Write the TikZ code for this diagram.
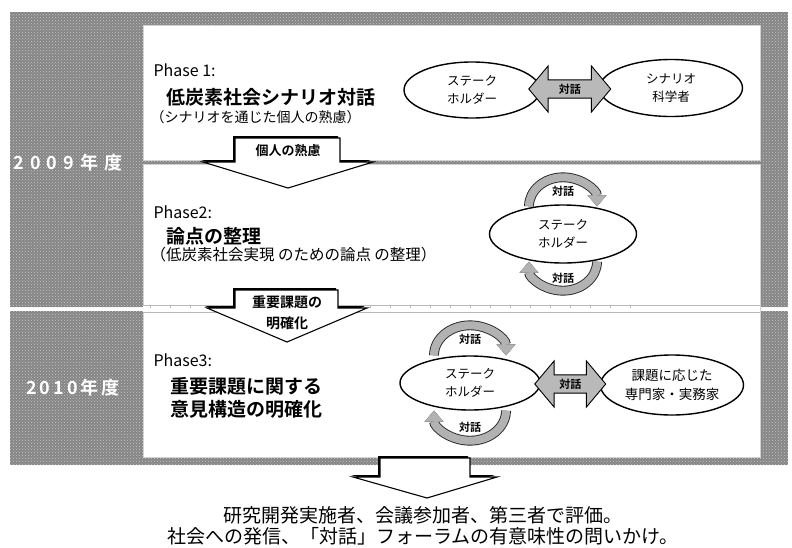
\documentclass[tikz,border=0pt]{standalone}
\usepackage{fontspec}
\setmainfont{Noto Sans CJK JP}[BoldFont={Noto Sans CJK JP Bold}]
\usetikzlibrary{shapes.geometric}
\usetikzlibrary{shapes.arrows}
\usetikzlibrary{arrows.meta}
\usetikzlibrary{patterns}
\usetikzlibrary{shadows}
\usetikzlibrary{calc}
\usetikzlibrary{positioning}

\newcommand{\fsz}[2]{\fontsize{#1}{#2}\selectfont}

\begin{document}
\begin{tikzpicture}[x=1pt,y=-1pt,
    greyband/.style={preaction={fill=black!48},pattern=crosshatch dots,pattern color=white!78!black},
    panel/.style={fill=white,draw=gray!35,line width=0.8pt},
    holder/.style={ellipse,draw,line width=1.4pt,fill=white,inner sep=0pt,align=center,font=\fsz{12.5}{18}},
    talk/.style={double arrow,draw,line width=0.9pt,fill=gray!55,double arrow head extend=14pt,
        double arrow tip angle=100,minimum height=#1,inner xsep=1pt,inner ysep=3.5pt,font=\bfseries\fsz{11}{12}},
    talkloop/.style={line width=8pt,draw=gray!60,-{Triangle[width=19pt,length=11pt,line width=0.6pt]},
        preaction={draw=black!85,line width=9.8pt}},
    loopword/.style={font=\bfseries\fsz{11}{12}},
    phasearrow/.style={draw,line width=1.1pt,fill=white,
        drop shadow={shadow xshift=-2pt,shadow yshift=2pt,fill=black,opacity=1}},
    phasetext/.style={anchor=west,font=\fsz{16}{18}},
    phasetitle/.style={anchor=west,font=\bfseries\fsz{19}{23},align=left},
    yeartext/.style={text=white,font=\bfseries\fsz{18}{18}}
]
\useasboundingbox (0,0) rectangle (792,547);

% background bands
\fill[greyband] (10,12) rectangle (788,307);
\fill[greyband] (10,311) rectangle (788,465);
\filldraw[panel] (143,25) rectangle (760,160);
\filldraw[panel] (143,164) rectangle (760,457);
\fill[white] (143,305) rectangle (760,313);
\draw[gray!55,line width=0.6pt] (143,305) -- (760,305) (143,312) -- (760,312);
\foreach \x in {150,170,...,640}
    \draw[gray!55,line width=0.6pt] (\x,305) -- (\x,308);

% years
\node[yeartext] (y09) at (68,163) {2\kern6pt 0\kern6pt 0\kern6pt 9\kern6pt 年\kern6pt 度};
\node[yeartext] (y10) at (73,388) {2\kern3pt 0\kern3pt 1\kern3pt 0\kern3pt 年\kern3pt 度};

% arrows between phases
\draw[phasearrow] (235,138) -- (340,138) -- (340,162) -- (373,162) -- (288,188)
    -- (203,162) -- (235,162) -- cycle;
\node[font=\bfseries\fsz{13}{14}] (ar1) at (288,151) {個人の熟慮};
\draw[phasearrow] (235,290) -- (338,290) -- (338,308) -- (367,308) -- (287,342)
    -- (207,308) -- (235,308) -- cycle;
\node[font=\bfseries\fsz{14}{21},align=center] (ar2) at (287,313) {重要課題の\\明確化};
\draw[phasearrow] (380,458) -- (470,458) -- (470,477) -- (497,477) -- (427,498)
    -- (353,477) -- (380,477) -- cycle;

% Phase 1
\node[phasetext] (ph1) at (150,70) {Phase 1:};
\node[phasetitle] (pt1) at (163,97) {低炭素社会シナリオ対話};
\node[anchor=west,font=\fsz{14}{16}] (pn1) at (147,117) {（シナリオを通じた個人の熟慮）};
\node[holder,minimum width=136pt,minimum height=56pt] (sh1) at (472,90) {ステーク\\ホルダー};
\node[holder,minimum width=143pt,minimum height=57pt] (sc1) at (671,88) {シナリオ\\科学者};
\node[talk=82pt] (dg1) at ($(sh1.east)!0.5!(sc1.west)$) {対話};

% Phase 2
\node[phasetext] (ph2) at (150,212) {Phase2:};
\node[phasetitle] (pt2) at (163,236) {論点の整理};
\node[anchor=west,font=\fsz{15.5}{16}] (pn2) at (147,255) {（低炭素社会実現 のための論点 の整理）};
\node[holder,minimum width=147pt,minimum height=58pt] (sh2) at (563,234) {ステーク\\ホルダー};
\draw[talkloop] ($(sh2.north)+(-34pt,-2pt)$) arc[start angle=180,end angle=0,x radius=34pt,y radius=29pt];
\draw[talkloop] ($(sh2.south)+(34pt,2pt)$) arc[start angle=0,end angle=-180,x radius=34pt,y radius=29pt];
\node[loopword] (tk2a) at ($(sh2.north)+(0pt,13pt)$) {対話};
\node[loopword] (tk2b) at ($(sh2.south)+(0pt,-15pt)$) {対話};

% Phase 3
\node[phasetext] (ph3) at (150,360) {Phase3:};
\node[phasetitle] (pt3) at (167,398) {重要課題に関する\\意見構造の明確化};
\node[holder,minimum width=140pt,minimum height=54pt] (sh3) at (470,383) {ステーク\\ホルダー};
\node[holder,minimum width=143pt,minimum height=60pt,font=\fsz{13.5}{19}] (ex3) at (672,385) {課題に応じた\\専門家・実務家};
\draw[talkloop] ($(sh3.north)+(-36pt,0pt)$) arc[start angle=180,end angle=0,x radius=36pt,y radius=30pt];
\draw[talkloop] ($(sh3.south)+(36pt,0pt)$) arc[start angle=0,end angle=-180,x radius=36pt,y radius=30pt];
\node[loopword] (tk3a) at ($(sh3.north)+(0pt,16pt)$) {対話};
\node[loopword] (tk3b) at ($(sh3.south)+(0pt,-17pt)$) {対話};
\node[talk=71pt] (dg3) at ($(sh3.east)!0.5!(ex3.west)$) {対話};

% evaluation
\node[font=\fsz{19}{21},align=center] (eval) at (423,526)
    {研究開発実施者、会議参加者、第三者で評価。\\社会への発信、「対話」フォーラムの有意味性の問いかけ。};
\end{tikzpicture}
\end{document}
